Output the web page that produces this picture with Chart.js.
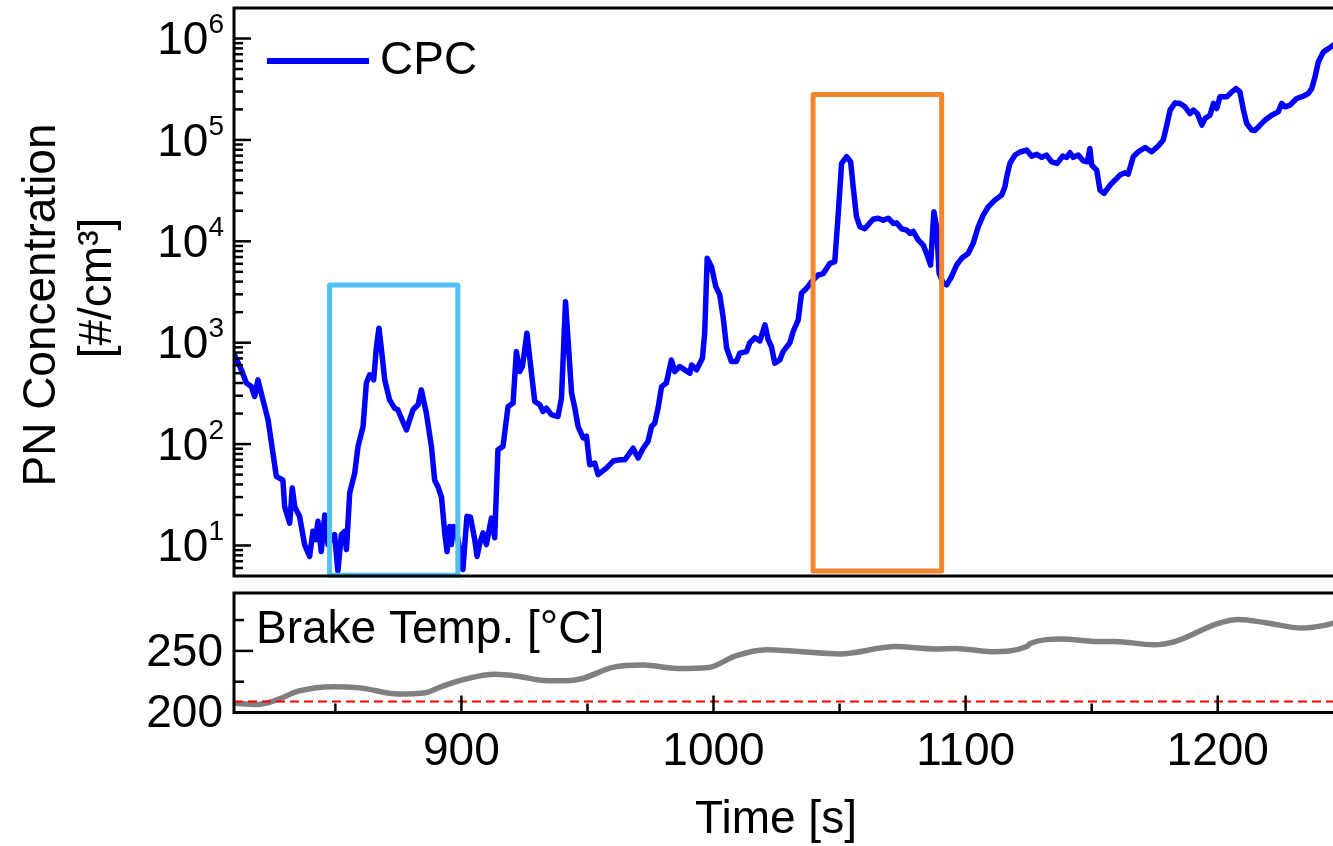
<!DOCTYPE html>
<html>
<head>
<meta charset="utf-8">
<script src="https://cdn.jsdelivr.net/npm/chart.js@4/dist/chart.umd.min.js"></script>
<style>
  body { margin: 0; background: #fff; overflow: hidden; width: 1333px; height: 846px; }
  canvas { position: absolute; left: 0; top: 0; }
</style>
</head>
<body>
<canvas id="pnChart" width="1345" height="846"></canvas>
<canvas id="tempChart" width="1345" height="846"></canvas>
<script>
// Time axis (s)
var timeMin = 809.8;
var timeMax = 1248.5;
var timeMajorTicks = [900, 1000, 1100, 1200];
var timeMinorTicks = [850, 950, 1050, 1150];

// CPC particle number concentration (#/cm3)
var cpcTime = [
  810, 812.7, 814.7, 816.7, 818.0, 819.3, 820.6, 823.3, 826.6, 829.2, 829.9, 831.9, 832.9, 833.9,
  835.8, 837.8, 839.8, 841.1, 842.2, 843.1, 844.4, 845.8, 847.1, 849.7, 851.0, 852.4, 853.7, 854.4,
  855.7, 857.7, 859.0, 861.0, 862.3, 863.6, 865.2, 866.3, 867.3, 868.3, 869.6, 871.5, 873.5, 874.8,
  876.2, 878.2, 879.5, 880.8, 882.8, 884.1, 886.1, 888.1, 889.4, 890.7, 892.1, 893.4, 894.3, 895.4,
  896.0, 896.9, 898.5, 900.6, 902.2, 903.6, 905.3, 906.2, 907.3, 908.6, 909.9, 911.9, 913.2, 914.5,
  916.5, 918.5, 920.5, 921.8, 923.1, 924.2, 926.0, 927.8, 929.1, 931.1, 932.4, 933.7, 935.7, 938.3,
  939.7, 941.3, 942.3, 943.7, 945.0, 946.3, 948.3, 949.6, 950.9, 952.9, 954.2, 957.5, 960.2, 962.8,
  964.8, 966.8, 968.1, 970.1, 972.1, 974.0, 975.4, 976.7, 978.0, 979.4, 981.3, 983.3, 984.6, 986.6,
  988.6, 990.6, 991.3, 993.3, 995.6, 996.5, 997.5, 999.2, 1000.9, 1002.5, 1003.8, 1005.2, 1007.1, 1009.1,
  1010.4, 1013.1, 1014.4, 1016.4, 1018.4, 1020.4, 1021.7, 1023.0, 1024.3, 1026.3, 1027.6, 1030.3, 1031.6, 1033.6,
  1034.9, 1036.9, 1038.9, 1041.5, 1043.5, 1046.2, 1048.1, 1049.4, 1050.8, 1052.8, 1054.4, 1055.4, 1056.7, 1058.1,
  1060.0, 1061.3, 1063.3, 1065.3, 1067.3, 1069.3, 1071.3, 1072.6, 1074.6, 1076.6, 1077.9, 1079.2, 1081.2, 1083.2,
  1084.5, 1086.1, 1087.4, 1088.5, 1089.5, 1091.1, 1092.5, 1094.4, 1096.4, 1098.4, 1101.0, 1103.0, 1105.0, 1107.0,
  1109.0, 1111.6, 1114.3, 1115.6, 1116.3, 1117.6, 1119.6, 1121.6, 1124.2, 1126.2, 1128.2, 1130.2, 1132.1, 1134.1,
  1136.3, 1138.5, 1140.1, 1141.4, 1142.7, 1144.7, 1146.7, 1148.3, 1149.3, 1150.0, 1152.0, 1153.3, 1154.9, 1157.3,
  1159.3, 1161.2, 1163.2, 1164.5, 1166.5, 1168.5, 1171.2, 1173.8, 1176.4, 1178.4, 1179.8, 1181.1, 1183.1, 1185.0,
  1187.0, 1189.0, 1190.3, 1191.9, 1193.7, 1195.0, 1196.9, 1198.3, 1199.6, 1200.9, 1203.6, 1205.6, 1207.3, 1208.8,
  1210.2, 1211.5, 1213.5, 1214.8, 1216.8, 1218.8, 1221.4, 1224.0, 1225.4, 1226.7, 1228.7, 1231.3, 1234.0, 1235.9,
  1237.3, 1238.6, 1239.9, 1241.9, 1243.9, 1245.8, 1248.5
];
var cpcConc = [
  760, 540, 400, 369, 295, 430, 318, 174, 48, 44, 24, 16.6, 37, 24,
  19.4, 10.2, 7.8, 13.8, 11.4, 17.3, 8.7, 20, 10.2, 12.8, 5.6, 12.8, 13.8, 9.1,
  33, 52, 95, 149, 400, 482, 430, 912, 1390, 850, 430, 273, 226, 218,
  180, 138, 174, 218, 244, 343, 202, 95, 44, 38, 30, 13.3, 8.7, 15.4,
  10.2, 15.4, 12, 5.8, 19.4, 19, 11.4, 7.8, 10.5, 13.3, 10.2, 18.6, 11.9, 88,
  95, 234, 254, 817, 519, 582, 1240, 500, 263, 244, 210, 226, 195, 187,
  284, 2540, 1070, 318, 226, 149, 115, 120, 62.5, 65, 50, 58, 68, 70,
  70, 82, 91, 73, 91, 106, 149, 161, 226, 369, 400, 676, 519, 582,
  540, 500, 603, 540, 703, 1240, 6800, 5620, 3570, 2950, 1800, 884, 652, 652,
  789, 817, 1000, 1120, 1040, 1500, 1070, 912, 628, 676, 817, 1000, 1290, 1680,
  3070, 3440, 4000, 4650, 4800, 6070, 6300, 17500, 58600, 68200, 60800, 34500, 17500, 13900,
  13300, 14500, 16500, 16900, 16100, 16900, 15000, 15200, 13300, 12900, 12000, 12500, 10300, 9180,
  7590, 5830, 19600, 13900, 4840, 3860, 3720, 4470, 5830, 6800, 7590, 9550, 13900, 18200,
  21900, 25500, 28600, 34500, 43300, 59000, 71000, 76000, 79400, 69200, 72000, 67300, 70800, 60800,
  58600, 69200, 67300, 74700, 67300, 70800, 62200, 60800, 82400, 56500, 50400, 32000, 29700, 35900,
  40200, 45000, 47400, 46000, 68200, 76400, 84200, 76400, 87000, 100000, 140000, 197000, 232000, 229000,
  212000, 182000, 197000, 182000, 140000, 163000, 175000, 229000, 204000, 266000, 266000, 298000, 321000, 298000,
  197000, 145000, 125000, 124000, 140000, 157000, 175000, 189000, 229000, 212000, 220000, 256000, 270000, 287000,
  321000, 419000, 589000, 738000, 795000, 859000, 900000
];
var pnMin = 5;
var pnMax = 2e6;
var pnDecades = [1, 2, 3, 4, 5, 6];

// Highlight boxes (time range, concentration range)
var blueBoxTime = [847.7, 898.6];
var blueBoxConc = [3700, 5.1];
var orangeBoxTime = [1039.5, 1090.5];
var orangeBoxConc = [280000, 5.6];

// Brake temperature (deg C)
var tempTime = [
  809.8, 818.8, 826.5, 835.6, 849.3, 859.9, 875.1, 885.8, 888.6, 890.2, 902.5, 913.1, 922.2, 932.7,
  941.8, 948, 960, 972.3, 985.8, 998.1, 1008.8, 1020.8, 1034.2, 1050.1, 1072.3, 1087.8, 1096.2, 1110.3,
  1124.3, 1125.6, 1138.2, 1152.3, 1159.2, 1174.7, 1183, 1199.7, 1208.3, 1219.5, 1233.4, 1241.8, 1248.5
];
var tempValue = [
  207.6, 206.5, 210, 217.5, 221, 220, 215, 216, 218, 219.5, 227.6, 231, 229.5, 226,
  225.7, 227.6, 236.6, 238.5, 235.8, 236.6, 246, 251, 249.5, 247.5, 253.5, 251.6, 252, 249.4,
  253.5, 256, 259.6, 257.6, 257.6, 255, 257.6, 272, 275.5, 272.7, 268.5, 270.5, 274
];
var tempMin = 200;
var tempMax = 297;
var tempRef = 209;
var tempMajorTicks = [200, 250];
var tempMinorTicks = [225, 275];

var FONT = '"Liberation Sans", Arial, Helvetica, sans-serif';

// Draws a rectangle given in data values
function drawBox(ctx, xs, ys, times, concs, color) {
  var x1 = xs.getPixelForValue(times[0]);
  var x2 = xs.getPixelForValue(times[1]);
  var y1 = ys.getPixelForValue(concs[0]);
  var y2 = ys.getPixelForValue(concs[1]);
  ctx.strokeStyle = color;
  ctx.lineWidth = 5;
  ctx.lineJoin = 'round';
  ctx.strokeRect(x1, y1, x2 - x1, y2 - y1);
}

function tickLine(ctx, x1, y1, x2, y2) {
  ctx.beginPath();
  ctx.moveTo(x1, y1);
  ctx.lineTo(x2, y2);
  ctx.stroke();
}

// Frame, inward ticks, labels and legend for the PN panel
var pnAxesPlugin = {
  id: 'pnAxes',
  afterDatasetsDraw: function(chart) {
    var ctx = chart.ctx;
    ctx.save();
    drawBox(ctx, chart.scales.x, chart.scales.y, blueBoxTime, blueBoxConc, '#4fc1f7');
    drawBox(ctx, chart.scales.x, chart.scales.y, orangeBoxTime, orangeBoxConc, '#f0862e');
    ctx.restore();
  },
  afterDraw: function(chart) {
    var ctx = chart.ctx;
    var area = chart.chartArea;
    var ys = chart.scales.y;
    ctx.save();
    ctx.strokeStyle = '#000';
    ctx.lineWidth = 3;
    ctx.strokeRect(area.left, area.top, area.right - area.left, area.bottom - area.top);

    // log ticks
    ctx.lineWidth = 2.5;
    for (var e = 0; e <= 6; e++) {
      for (var m = 1; m <= 9; m++) {
        var v = m * Math.pow(10, e);
        if (v <= pnMin || v >= pnMax) continue;
        var py = ys.getPixelForValue(v);
        tickLine(ctx, area.left, py, area.left + (m === 1 ? 17 : 9), py);
      }
    }

    // decade labels 10^n
    ctx.fillStyle = '#000';
    ctx.textBaseline = 'middle';
    ctx.textAlign = 'right';
    for (var k = 0; k < pnDecades.length; k++) {
      var ty = ys.getPixelForValue(Math.pow(10, pnDecades[k]));
      ctx.font = '28px ' + FONT;
      var expText = String(pnDecades[k]);
      var expW = ctx.measureText(expText).width;
      ctx.fillText(expText, 224, ty - 13);
      ctx.font = '46px ' + FONT;
      ctx.fillText('10', 224 - expW, ty + 3);
    }

    // axis title
    ctx.textAlign = 'center';
    ctx.font = '46px ' + FONT;
    ctx.save();
    ctx.translate(42, 305);
    ctx.rotate(-Math.PI / 2);
    ctx.fillText('PN Concentration', 0, 0);
    ctx.restore();
    ctx.save();
    ctx.translate(98, 288);
    ctx.rotate(-Math.PI / 2);
    ctx.fillText('[#/cm\u00B3]', 0, 0);
    ctx.restore();

    // legend
    var ds = chart.data.datasets[0];
    ctx.strokeStyle = ds.borderColor;
    ctx.lineWidth = 6;
    tickLine(ctx, 267, 61, 369, 61);
    ctx.textAlign = 'left';
    ctx.fillText(ds.label, 380, 61);
    ctx.restore();
  }
};

// Frame, ticks and labels for the temperature panel
var tempAxesPlugin = {
  id: 'tempAxes',
  afterDraw: function(chart) {
    var ctx = chart.ctx;
    var area = chart.chartArea;
    var xs = chart.scales.x;
    var ys = chart.scales.y;
    ctx.save();
    ctx.strokeStyle = '#000';
    ctx.lineWidth = 3;
    ctx.strokeRect(area.left, area.top, area.right - area.left, area.bottom - area.top);

    ctx.lineWidth = 2.5;
    tempMajorTicks.forEach(function(v) {
      var py = ys.getPixelForValue(v);
      tickLine(ctx, area.left, py, area.left + 19, py);
    });
    tempMinorTicks.forEach(function(v) {
      var py = ys.getPixelForValue(v);
      tickLine(ctx, area.left, py, area.left + 10, py);
    });
    timeMajorTicks.forEach(function(v) {
      var px = xs.getPixelForValue(v);
      tickLine(ctx, px, area.bottom, px, area.bottom - 17);
    });
    timeMinorTicks.forEach(function(v) {
      var px = xs.getPixelForValue(v);
      tickLine(ctx, px, area.bottom, px, area.bottom - 9);
    });

    ctx.fillStyle = '#000';
    ctx.font = '46px ' + FONT;
    ctx.textBaseline = 'middle';
    ctx.textAlign = 'right';
    tempMajorTicks.forEach(function(v) {
      ctx.fillText(String(v), 223, ys.getPixelForValue(v) + 2);
    });
    ctx.textAlign = 'center';
    timeMajorTicks.forEach(function(v) {
      ctx.fillText(String(v), xs.getPixelForValue(v), 752);
    });
    ctx.fillText('Time [s]', 776, 820);

    ctx.textAlign = 'left';
    ctx.fillText(chart.data.datasets[1].label, 256, 630);
    ctx.restore();
  }
};

var pnPoints = cpcTime.map(function(t, i) { return {x: t, y: cpcConc[i]}; });
var tempPoints = tempTime.map(function(t, i) { return {x: t, y: tempValue[i]}; });
var refPoints = [{x: timeMin, y: tempRef}, {x: timeMax, y: tempRef}];

new Chart(document.getElementById('pnChart').getContext('2d'), {
  type: 'line',
  data: {
    datasets: [{
      label: 'CPC',
      data: pnPoints,
      borderColor: '#0000ff',
      borderWidth: 5.5,
      pointRadius: 0,
      tension: 0,
      borderJoinStyle: 'round',
      borderCapStyle: 'round'
    }]
  },
  options: {
    responsive: false,
    animation: false,
    devicePixelRatio: 1,
    layout: { padding: { left: 234, top: 8, right: 5, bottom: 270 } },
    plugins: { legend: { display: false }, tooltip: { enabled: false } },
    scales: {
      x: { type: 'linear', display: false, min: timeMin, max: timeMax },
      y: { type: 'logarithmic', display: false, min: pnMin, max: pnMax }
    }
  },
  plugins: [pnAxesPlugin]
});

new Chart(document.getElementById('tempChart').getContext('2d'), {
  type: 'line',
  data: {
    datasets: [{
      label: 'Reference',
      data: refPoints,
      borderColor: '#ff0000',
      borderWidth: 2,
      borderDash: [9, 5],
      pointRadius: 0
    }, {
      label: 'Brake Temp. [\u00B0C]',
      data: tempPoints,
      borderColor: '#808080',
      borderWidth: 5.5,
      pointRadius: 0,
      cubicInterpolationMode: 'monotone'
    }]
  },
  options: {
    responsive: false,
    animation: false,
    devicePixelRatio: 1,
    layout: { padding: { left: 234, top: 593, right: 5, bottom: 133.5 } },
    plugins: { legend: { display: false }, tooltip: { enabled: false } },
    scales: {
      x: { type: 'linear', display: false, min: timeMin, max: timeMax },
      y: { type: 'linear', display: false, min: tempMin, max: tempMax }
    }
  },
  plugins: [tempAxesPlugin]
});
</script>
</body>
</html>
